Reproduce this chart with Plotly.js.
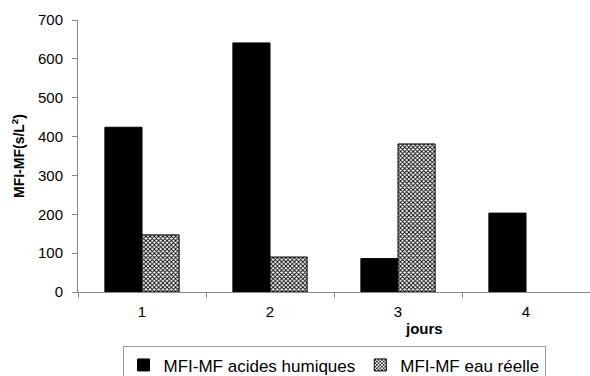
<!DOCTYPE html>
<html><head><meta charset="utf-8">
<script src="https://cdn.plot.ly/plotly-3.0.1.min.js"></script>
<style>html,body{margin:0;padding:0;background:#fff}</style>
</head><body><div id="c" style="width:590px;height:376px"></div>
<script>
const categories = ["1", "2", "3", "4"];
const acidesHumiques = [424, 641, 86, 203];
const eauReelle = [147, 90, 381, null];
const seriesNames = ["MFI-MF acides humiques", "MFI-MF eau réelle"];
const yTicks = [0, 100, 200, 300, 400, 500, 600, 700];

const font = "Arial, 'Liberation Sans', sans-serif";
const traces = [
  {type: "bar", x: categories, y: acidesHumiques, name: seriesNames[0],
   marker: {color: "#000", line: {color: "#000", width: 1}}},
  {type: "bar", x: categories, y: eauReelle, name: seriesNames[1],
   marker: {color: "#fff", line: {color: "#000", width: 1},
            pattern: {shape: "x", size: 3, solidity: 0.5, fgcolor: "#000", bgcolor: "#fff"}}}
];
const layout = {
  width: 590, height: 376,
  margin: {l: 78, r: 0, t: 20, b: 84, autoexpand: false},
  paper_bgcolor: "#fff", plot_bgcolor: "#fff",
  font: {family: font, color: "#000"},
  barmode: "group", bargap: 0.42, bargroupgap: 0,
  showlegend: true,
  legend: {orientation: "h", x: 0.5, xanchor: "center", y: -0.2, yanchor: "top",
           font: {size: 17, family: font}, bordercolor: "#999", borderwidth: 1,
           itemwidth: 30, tracegroupgap: 0},
  xaxis: {type: "category", showline: true, linecolor: "#888", linewidth: 1,
          ticks: "outside", tickson: "boundaries", ticklen: 5, tickcolor: "#888",
          tickfont: {size: 15}, ticklabelstandoff: 6, showgrid: false, zeroline: false,
          range: [-0.5, 3.5]},
  yaxis: {range: [0, 700], tickvals: yTicks, showline: true, linecolor: "#888", linewidth: 1,
          ticks: "outside", ticklen: 5, tickcolor: "#888", tickfont: {size: 15},
          ticklabelstandoff: 6, showgrid: false, zeroline: false,
          title: {text: "<b>MFI-MF(s/L<sup>2</sup>)</b>", font: {size: 14}, standoff: 10}},
  annotations: [{text: "<b>jours</b>", xref: "paper", yref: "paper", x: 0.676, y: -0.135,
                 xanchor: "center", yanchor: "middle", showarrow: false, font: {size: 15}}]
};
Plotly.newPlot("c", traces, layout, {displayModeBar: false, staticPlot: true});
</script></body></html>
